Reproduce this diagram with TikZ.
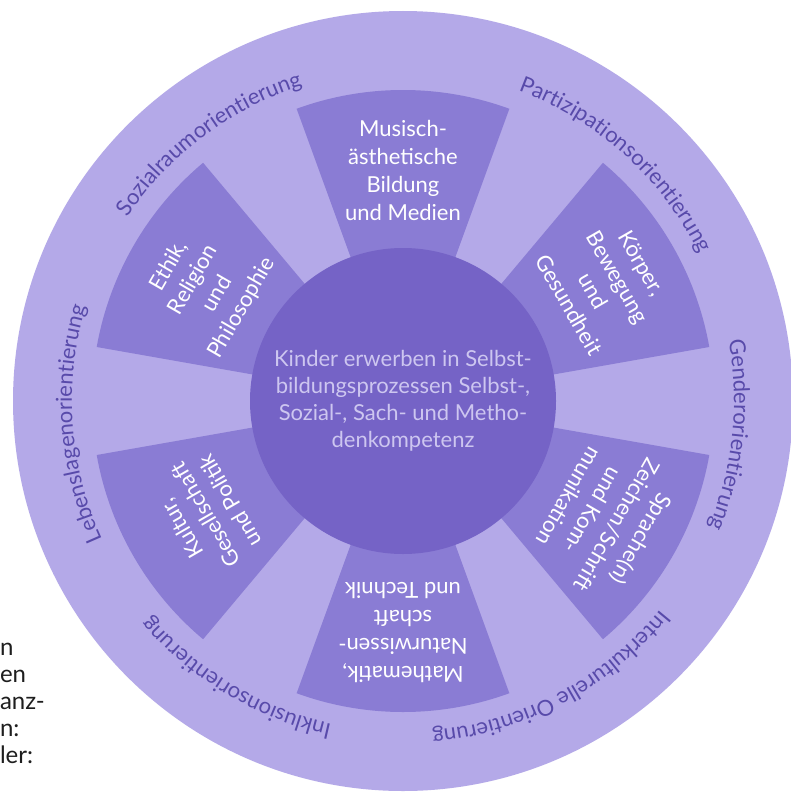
\documentclass[tikz,border=0pt]{standalone}
\usepackage{fontspec}
\setmainfont{Lato}
\usepackage{tikz}
\usetikzlibrary{decorations.text}

\begin{document}
\begin{tikzpicture}[x=1pt,y=-1pt,
		petal/.style={fill=col_petal},
		petaltext/.style={inner sep=0, outer sep=0, white, align=center, font=\petalfont},
		kerntext/.style={inner sep=0, outer sep=0, col_kerntext, align=center, font=\kernfont},
		bodytext/.style={inner sep=0, outer sep=0, col_body, font=\bodyfont},
		ringlabel/.style={decorate, decoration={text along path, text align=center, text={|\ringfont|#1}}}]
					\def\petalfont{\fontsize{22pt}{28pt}\selectfont} % Avenir in the original
					\def\kernfont{\fontsize{22pt}{27pt}\selectfont}
					\def\ringfont{\fontsize{22pt}{22pt}\selectfont\color{col_ringtext}}
					\def\bodyfont{\fontsize{24pt}{27pt}\selectfont}
					\definecolor{col_ring}{RGB}{180, 169, 232}
					\definecolor{col_petal}{RGB}{138, 124, 212}
					\definecolor{col_kern}{RGB}{117, 99, 198}
					\definecolor{col_ringtext}{RGB}{88, 74, 170}
					\definecolor{col_kerntext}{RGB}{205, 198, 240}
					\definecolor{col_body}{RGB}{30, 30, 30}
					\useasboundingbox (0,0) rectangle (791,792);
					\fill [white] (0,0) rectangle (791,792);
					\clip (0,0) rectangle (791,792);
					\begin{scope}[shift={(403,401)}]
						\fill [col_ring] (0,0) circle (390);
						\fill [petal] (-110:140) -- (-110:311) arc[start angle=-110, end angle=-70, radius=311] -- (-70:140) -- cycle;
						\fill [petal] (-50:140) -- (-50:311) arc[start angle=-50, end angle=-10, radius=311] -- (-10:140) -- cycle;
						\fill [petal] (10:140) -- (10:311) arc[start angle=10, end angle=50, radius=311] -- (50:140) -- cycle;
						\fill [petal] (70:140) -- (70:311) arc[start angle=70, end angle=110, radius=311] -- (110:140) -- cycle;
						\fill [petal] (130:140) -- (130:311) arc[start angle=130, end angle=170, radius=311] -- (170:140) -- cycle;
						\fill [petal] (-170:140) -- (-170:311) arc[start angle=-170, end angle=-130, radius=311] -- (-130:140) -- cycle;
						\fill [col_kern] (0,0) circle (153);
						\node[kerntext] (kern) at (0,0) {Kinder erwerben in Selbst-\\bildungsprozessen Selbst-,\\Sozial-, Sach- und Metho-\\denkompetenz};
						\node[petaltext, rotate=0] (musisch) at (-90:231) {Musisch-\\ästhetische\\Bildung\\und Medien};
						\node[petaltext, rotate=-60] (koerper) at (-30:234) {Körper,\\Bewegung\\und\\Gesundheit};
						\node[petaltext, rotate=-120] (sprache) at (30:234) {Sprache(n)\\Zeichen/Schrift\\und Kom-\\munikation};
						\node[petaltext, rotate=180] (mathe) at (90:232) {Mathematik,\\Naturwissen-\\schaft\\und Technik};
						\node[petaltext, rotate=120] (kultur) at (150:228) {Kultur,\\Gesellschaft\\und Politik};
						\node[petaltext, rotate=60] (ethik) at (-150:228) {Ethik,\\Religion\\und\\Philosophie};
						\path [ringlabel=Sozialraumorientierung] (-182:331) arc[start angle=-182, end angle=-72, radius=331];
						\path [ringlabel=Partizipationsorientierung] (-103:331) arc[start angle=-103, end angle=7, radius=331];
						\path [ringlabel=Genderorientierung] (-49:331) arc[start angle=-49, end angle=61, radius=331];
						\path [ringlabel=Interkulturelle Orientierung] (7:331) arc[start angle=7, end angle=117, radius=331];
						\path [ringlabel=Inklusionsorientierung] (66:331) arc[start angle=66, end angle=176, radius=331];
						\path [ringlabel=Lebenslagenorientierung] (121:331) arc[start angle=121, end angle=231, radius=331];
					\end{scope}
					\node[bodytext, anchor=base west] (frag1) at (0,655) {n};
					\node[bodytext, anchor=base west] (frag2) at (0,682) {en};
					\node[bodytext, anchor=base west] (frag3) at (0,709) {anz-};
					\node[bodytext, anchor=base west] (frag4) at (0,736) {n:};
					\node[bodytext, anchor=base west] (frag5) at (0,763) {ler:};
\end{tikzpicture}
\end{document}
